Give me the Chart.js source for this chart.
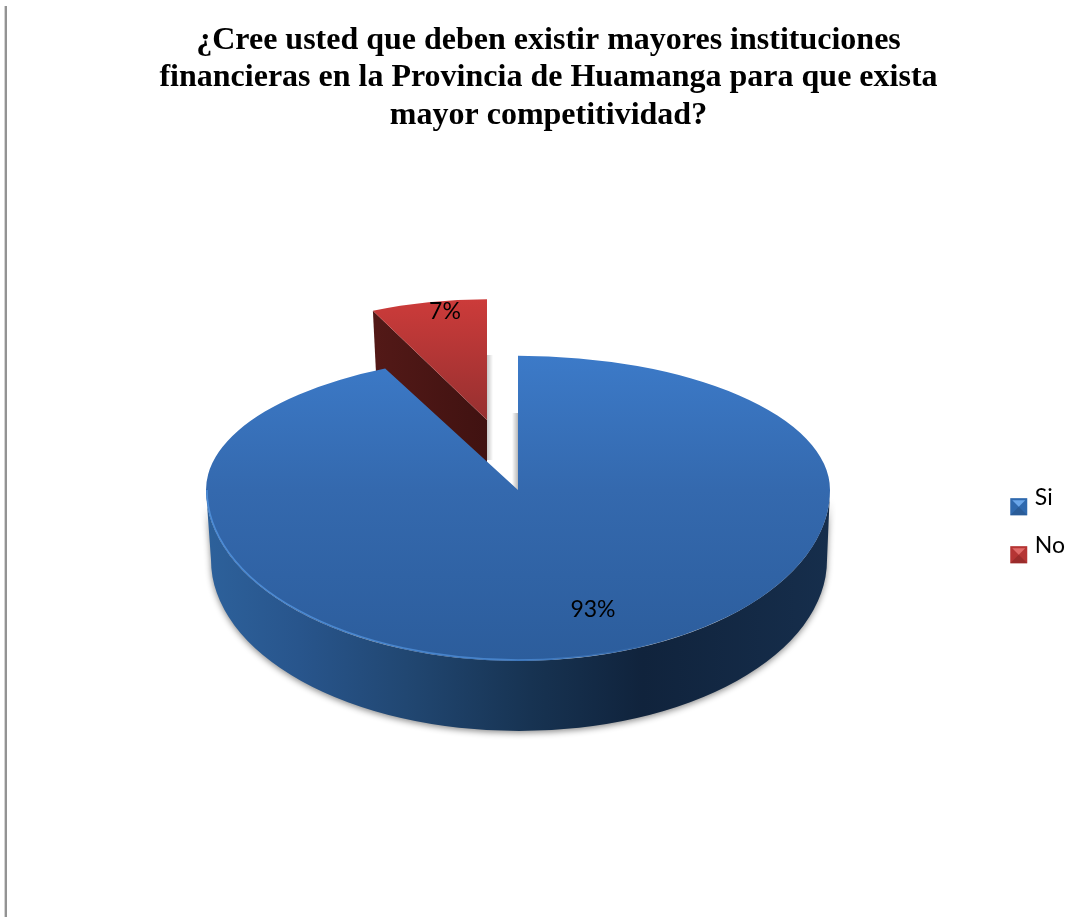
<!DOCTYPE html>
<html lang="es">
<head>
<meta charset="utf-8">
<title>Instituciones financieras en Huamanga</title>
<script src="https://cdn.jsdelivr.net/npm/chart.js@4/dist/chart.umd.min.js"></script>
<style>
  html, body { margin: 0; padding: 0; background: #fff; overflow: hidden; }
  #rule { position: absolute; left: 4px; top: 6px; width: 1px; height: 911px;
          background: #d4d4d4; border-right: 2px solid #939393; }
  #chart { position: absolute; left: 0; top: 0; }
</style>
</head>
<body>
<div id="rule"></div>
<canvas id="chart" width="1083" height="917"></canvas>
<script>
// ------------------------------------------------------------
// Data
// ------------------------------------------------------------
const categories = ['Si', 'No'];
const values = [93, 7];
const titleLines = [
  '¿Cree usted que deben existir mayores instituciones',
  'financieras en la Provincia de Huamanga para que exista',
  'mayor competitividad?'
];

// ------------------------------------------------------------
// 3D look of the pie
// ------------------------------------------------------------
const RADIUS = 312;
const TIP_X = 518, TIP_Y = 490;     // where the main slice comes to a point
const SQUASH_BACK = 0.43;           // far half of the disc
const SQUASH_FRONT = 0.548;         // near half, drawn larger for perspective
const DEPTH = 70;

const EXPLODE_X = -31, EXPLODE_Y = -70;
const NO_SX = 0.859, NO_SY = 0.387; // pulled-out slice sits further back
const NO_DEPTH = 60;

const LABEL_SHIFT = [[75, 120], [-42, -108]];

const ctx = document.getElementById('chart').getContext('2d');

// fills are in the arc's unprojected space: centre of the chart is arc.x / arc.y
function sliceFills(chart) {
  const cy = (chart.chartArea.top + chart.chartArea.bottom) / 2;
  const blue = ctx.createLinearGradient(0, cy - RADIUS, 0, cy + RADIUS);
  blue.addColorStop(0, '#3c7ac8');
  blue.addColorStop(0.5, '#3469ae');
  blue.addColorStop(1, '#2c5d9c');
  const red = ctx.createLinearGradient(0, cy - RADIUS, 0, cy);
  red.addColorStop(0, '#cc3b3a');
  red.addColorStop(1, '#963030');
  return [blue, red];
}

function drawMainSlice(c, arc, W) {
  // far half
  c.save();
  c.beginPath();
  c.rect(0, 0, W, TIP_Y + 0.5);
  c.clip();
  c.translate(TIP_X, TIP_Y);
  c.scale(1, SQUASH_BACK);
  c.translate(-arc.x, -arc.y);
  arc.draw(c);
  c.restore();
  // near half
  c.save();
  c.beginPath();
  c.rect(0, TIP_Y, W, 917);
  c.clip();
  c.translate(TIP_X, TIP_Y);
  c.scale(1, SQUASH_FRONT);
  c.translate(-arc.x, -arc.y);
  arc.draw(c);
  c.restore();
}

function drawMainWall(c) {
  const ry = RADIUS * SQUASH_FRONT;
  const wall = c.createLinearGradient(TIP_X - RADIUS, 0, TIP_X + RADIUS, 0);
  wall.addColorStop(0, '#2d619b');
  wall.addColorStop(0.15, '#28558c');
  wall.addColorStop(0.32, '#214772');
  wall.addColorStop(0.52, '#173352');
  wall.addColorStop(0.7, '#10233c');
  wall.addColorStop(1, '#162e4c');

  c.save();
  c.shadowColor = 'rgba(0,0,0,0.45)';
  c.shadowBlur = 6;
  c.shadowOffsetY = 2;
  c.fillStyle = wall;
  c.beginPath();
  c.ellipse(TIP_X, TIP_Y, RADIUS, ry, 0, Math.PI, 0, true);
  c.ellipse(TIP_X + 1, TIP_Y + DEPTH, RADIUS - 4, ry, 0, 0, Math.PI, false);
  c.closePath();
  c.fill();
  c.restore();
}

function drawRimLight(c) {
  const rim = c.createLinearGradient(TIP_X - RADIUS, 0, TIP_X + 140, 0);
  rim.addColorStop(0, 'rgba(80,145,220,0.9)');
  rim.addColorStop(0.7, 'rgba(80,145,220,0.7)');
  rim.addColorStop(1, 'rgba(80,145,220,0)');
  c.save();
  c.strokeStyle = rim;
  c.lineWidth = 1.5;
  c.beginPath();
  c.ellipse(TIP_X, TIP_Y, RADIUS - 1, RADIUS * SQUASH_FRONT - 1, 0, Math.PI, Math.PI * 0.3, true);
  c.stroke();
  c.restore();
}

function drawPulledSlice(c, arc) {
  const ax = TIP_X + EXPLODE_X, ay = TIP_Y + EXPLODE_Y;
  const px = ax + Math.cos(arc.startAngle) * RADIUS * NO_SX;
  const py = ay + Math.sin(arc.startAngle) * RADIUS * NO_SY;

  // cut face
  const face = c.createLinearGradient(px, 0, ax, 0);
  face.addColorStop(0, '#531917');
  face.addColorStop(1, '#401211');
  c.fillStyle = face;
  c.beginPath();
  c.moveTo(px, py);
  c.lineTo(ax, ay);
  c.lineTo(ax, ay + NO_DEPTH);
  c.lineTo(px + 3, py + NO_DEPTH);
  c.closePath();
  c.fill();

  c.save();
  c.translate(ax, ay);
  c.scale(NO_SX, NO_SY);
  c.translate(-arc.x, -arc.y);
  arc.draw(c);
  c.restore();
}

// soft shade along the straight edges either side of the gap
function drawGapShade(c) {
  const right = TIP_X + EXPLODE_X;
  let g = c.createLinearGradient(right, 0, right + 6, 0);
  g.addColorStop(0, 'rgba(0,0,0,0.22)');
  g.addColorStop(1, 'rgba(0,0,0,0)');
  c.fillStyle = g;
  c.fillRect(right, TIP_Y - 135, 6, 105);
  g = c.createLinearGradient(TIP_X - 6, 0, TIP_X, 0);
  g.addColorStop(0, 'rgba(0,0,0,0)');
  g.addColorStop(1, 'rgba(0,0,0,0.28)');
  c.fillStyle = g;
  c.fillRect(TIP_X - 6, TIP_Y - 77, 6, 77);
}

const pie3d = {
  id: 'pie3d',
  beforeDatasetDraw(chart) {
    const c = chart.ctx;
    const [mainArc, pulledArc] = chart.getDatasetMeta(0).data;
    drawGapShade(c);
    drawPulledSlice(c, pulledArc);
    drawMainWall(c);
    drawMainSlice(c, mainArc, chart.width);
    drawRimLight(c);
    return false;
  },
  afterDatasetsDraw(chart) {
    const c = chart.ctx;
    const total = values.reduce((a, b) => a + b, 0);
    c.save();
    c.fillStyle = '#000';
    c.font = '23px Lato';
    c.textAlign = 'center';
    c.textBaseline = 'middle';
    const origins = [[TIP_X, TIP_Y], [TIP_X + EXPLODE_X, TIP_Y + EXPLODE_Y]];
    values.forEach((v, i) => {
      c.fillText(Math.round(v / total * 100) + '%',
        origins[i][0] + LABEL_SHIFT[i][0], origins[i][1] + LABEL_SHIFT[i][1]);
    });
    c.restore();
  }
};

// legend boxes sit a little lower than their text, with a bevel
const SWATCH = [
  { side: '#2f69ae', top: '#6aa6ea', bottom: '#2a5c98' },
  { side: '#b53534', top: '#e06a68', bottom: '#9a2c2b' }
];
const bevelLegend = {
  id: 'bevelLegend',
  afterDraw(chart) {
    const c = chart.ctx;
    chart.legend.legendHitBoxes.forEach((hit, i) => {
      const s = SWATCH[i], size = 17;
      const x = hit.left, y = hit.top + 12;
      const mx = x + size / 2, my = y + size / 2;
      c.fillStyle = s.side;
      c.fillRect(x, y, size, size);
      const tri = (col, ax, ay, bx, by) => {
        c.fillStyle = col;
        c.beginPath();
        c.moveTo(ax, ay); c.lineTo(bx, by); c.lineTo(mx, my);
        c.closePath();
        c.fill();
      };
      tri(s.bottom, x, y + size, x + size, y + size);
      tri(s.top, x + 2, y + 2, x + size - 2, y + 2);
    });
  }
};

// ------------------------------------------------------------
// Chart
// ------------------------------------------------------------
const chart = new Chart(ctx, {
  type: 'pie',
  data: {
    labels: categories,
    datasets: [{
      data: values,
      backgroundColor: '#3469ae',
      borderWidth: 0,
      radius: RADIUS
    }]
  },
  options: {
    responsive: false,
    animation: false,
    rotation: 0,
    layout: { padding: { left: 22, top: 18, right: 8, bottom: 8 } },
    events: [],
    plugins: {
      tooltip: { enabled: false },
      title: {
        display: true,
        text: titleLines,
        color: '#000',
        font: { family: '"Liberation Serif"', size: 32, weight: 'bold', lineHeight: 1.17 },
        padding: { top: 4, bottom: 0 }
      },
      legend: {
        position: 'right',
        fullSize: false,
        labels: {
          color: '#000',
          font: { family: 'Lato', size: 23 },
          boxWidth: 13,
          boxHeight: 17,
          padding: 25,
          generateLabels(ch) {
            return Chart.overrides.pie.plugins.legend.labels.generateLabels(ch).map(item => {
              item.fillStyle = 'rgba(0,0,0,0)';
              item.strokeStyle = 'rgba(0,0,0,0)';
              item.lineWidth = 0;
              return item;
            });
          }
        }
      }
    }
  },
  plugins: [pie3d, bevelLegend]
});

// gradients need the laid-out chart area
const fills = sliceFills(chart);
chart.data.datasets[0].backgroundColor = fills;
chart.update();
</script>
</body>
</html>
